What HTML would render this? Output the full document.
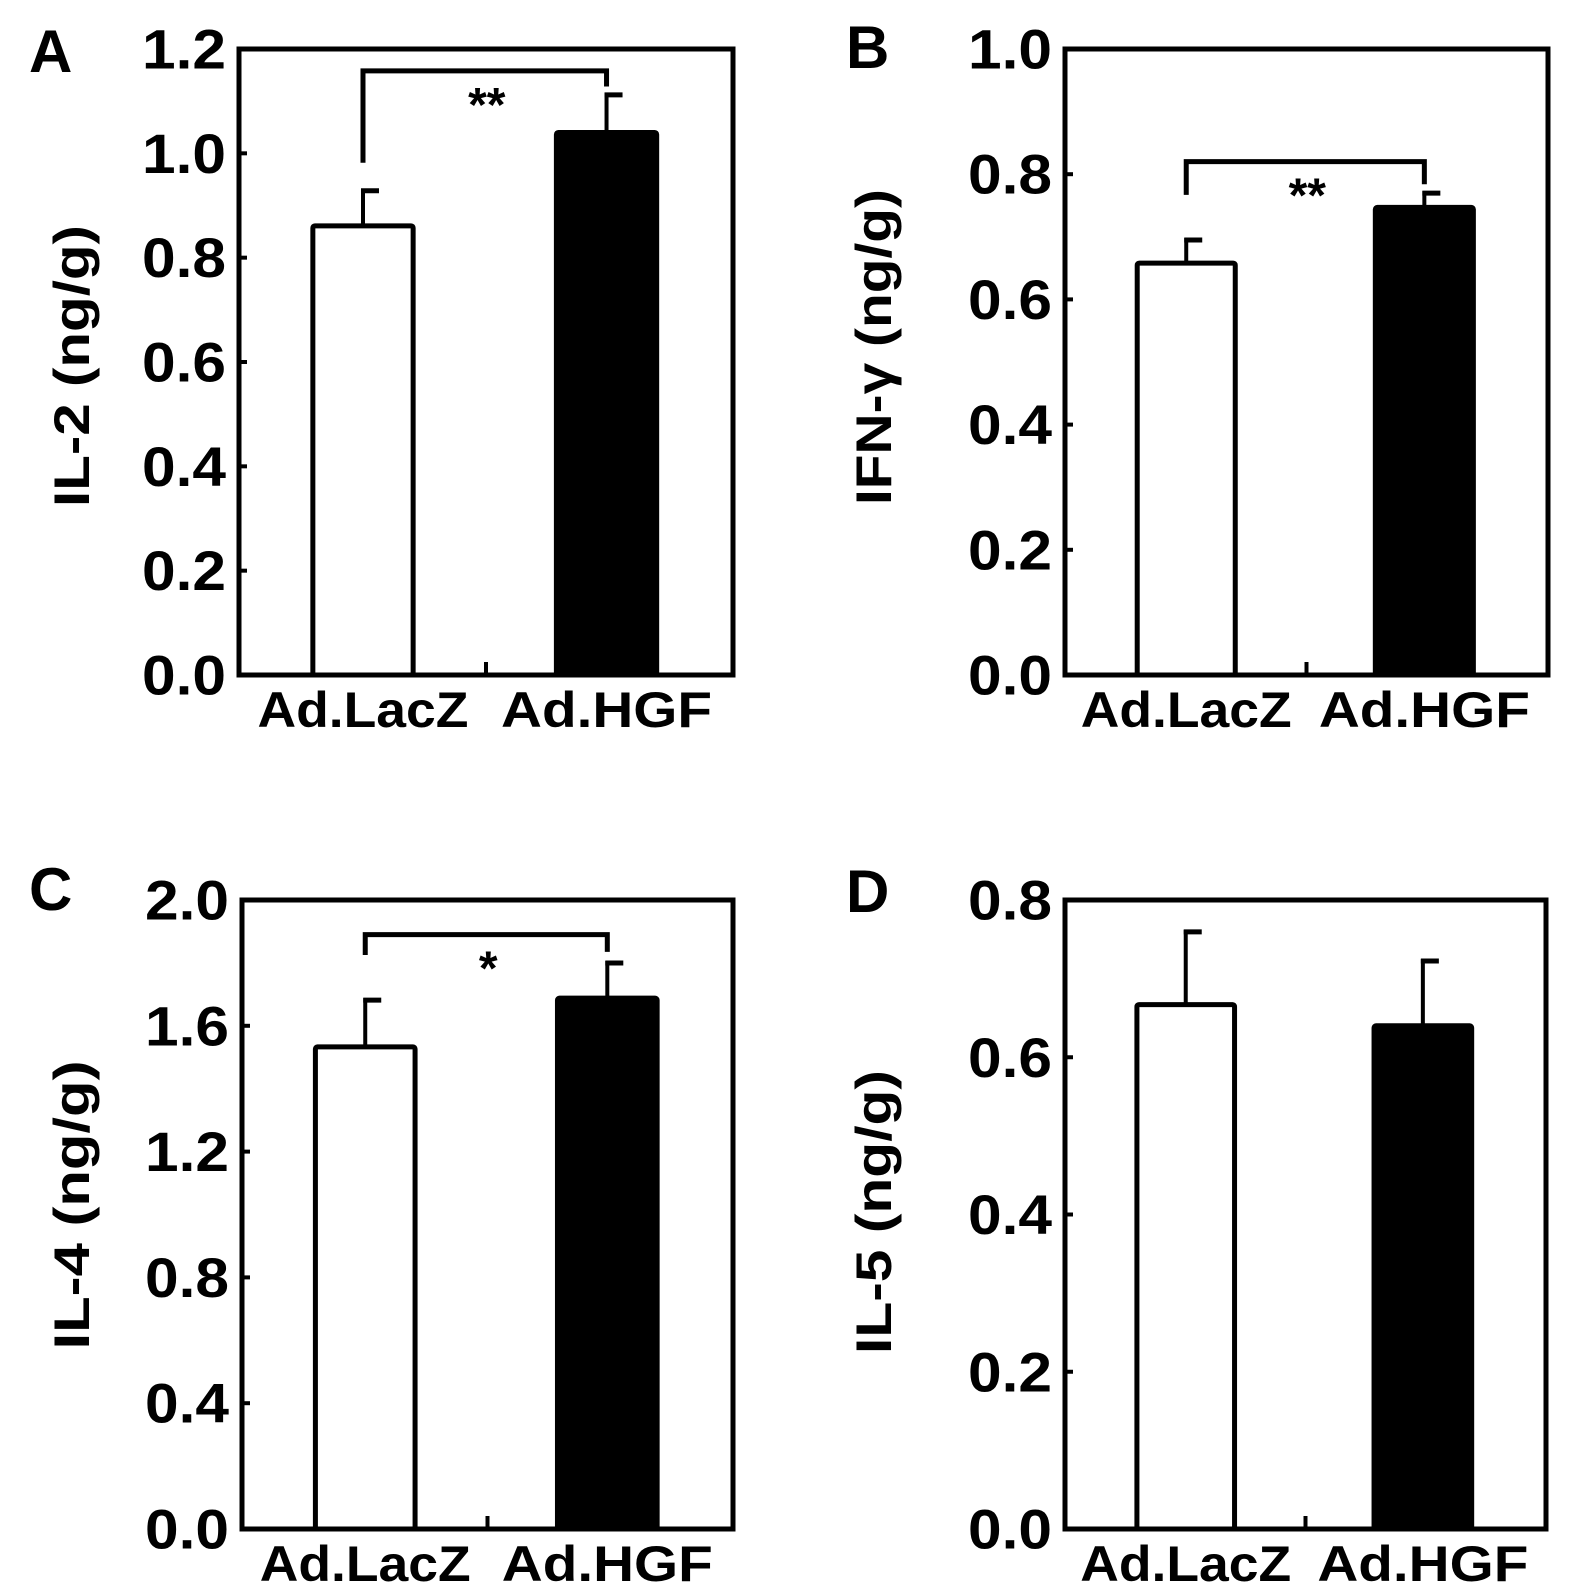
<!DOCTYPE html>
<html><head><meta charset="utf-8"><style>
html,body{margin:0;padding:0;background:#fff;}
svg{display:block;font-family:"Liberation Sans",Arial,sans-serif;font-weight:bold;}
</style></head><body>
<svg id="fig" width="1571" height="1594" viewBox="0 0 1571 1594"></svg>
<script>
const categories = ["Ad.LacZ", "Ad.HGF"];
const il2Values = [0.861, 1.04];
const il2Errors = [0.071, 0.076];
const ifnValues = [0.658, 0.747];
const ifnErrors = [0.040, 0.026];
const il4Values = [1.533, 1.688];
const il4Errors = [0.155, 0.118];
const il5Values = [0.667, 0.640];
const il5Errors = [0.095, 0.085];
const il2Ticks = ["0.0","0.2","0.4","0.6","0.8","1.0","1.2"];
const ifnTicks = ["0.0","0.2","0.4","0.6","0.8","1.0"];
const il4Ticks = ["0.0","0.4","0.8","1.2","1.6","2.0"];
const il5Ticks = ["0.0","0.2","0.4","0.6","0.8"];
const sigA = "**", sigB = "**", sigC = "*";

const NS = "http://www.w3.org/2000/svg";
const svg = document.getElementById("fig");
function mk(tag, attrs, parent){
  const e = document.createElementNS(NS, tag);
  for (const k in attrs) e.setAttribute(k, attrs[k]);
  (parent||svg).appendChild(e);
  return e;
}

const panels = [
  {id:"a", letter:"A", lx:29, ly:72, L:239, R:733, T:49, B:675, ymax:1.2, ticks:il2Ticks, vals:il2Values, errs:il2Errors, title:"IL-2 (ng/g)", tx:72, ty:366, tl:282, sig:sigA, bracket:{y:1.2-0.042, dl:0.05, dr:0.012}},
  {id:"b", letter:"B", lx:846, ly:68, L:1065, R:1548, T:49, B:675, ymax:1.0, ticks:ifnTicks, vals:ifnValues, errs:ifnErrors, title:"IFN-\u03b3 (ng/g)", tx:874, ty:347, tl:316, sig:sigB, bracket:{y:0.82, dl:0.069, dr:0.011}},
  {id:"c", letter:"C", lx:29, ly:910, L:242, R:733, T:900, B:1529, ymax:2.0, ticks:il4Ticks, vals:il4Values, errs:il4Errors, title:"IL-4 (ng/g)", tx:72, ty:1205, tl:289, sig:sigC, bracket:{y:1.89, dl:0.137, dr:0.029}},
  {id:"d", letter:"D", lx:846, ly:912, L:1065, R:1546, T:900, B:1529, ymax:0.8, ticks:il5Ticks, vals:il5Values, errs:il5Errors, title:"IL-5 (ng/g)", tx:874, ty:1212, tl:284, sig:null}
];

panels.forEach(p => {
  const g = mk("g", {});
  
  
  const y = v => p.B - (v / p.ymax) * (p.B - p.T);
  const w = p.R - p.L;
  const xc = i => p.L + w * (i === 0 ? 0.251 : 0.744);
  const bw = w * 0.203;

  const letter = mk("text", {x:p.lx, y:p.ly, "font-size":60}, g);
  letter.textContent = p.letter;
  
  

  const t = mk("text", {x:0, y:0, "font-size":50, "text-anchor":"middle", "dominant-baseline":"central", textLength:p.tl, lengthAdjust:"spacingAndGlyphs", transform:`translate(${p.tx},${p.ty}) rotate(-90)`}, g);
  t.textContent = p.title;
  
  

  p.vals.forEach((v, i) => {
    const top = y(v);
    const etop = y(v + p.errs[i]);
    const el = mk("line", {x1:xc(i), x2:xc(i), y1:top, y2:etop, stroke:"#000", "stroke-width":4}, g);
    
    
    const cap = mk("line", {x1:xc(i)-2, x2:xc(i)+16, y1:etop+2, y2:etop+2, stroke:"#000", "stroke-width":5}, g);
    
    
    const r = mk("rect", {x:xc(i)-bw/2, y:top, width:bw, height:p.B-top, fill:i===0?"#fff":"#000", stroke:"#000", "stroke-width":5, rx:2}, g);
    
    
    const xl = mk("text", {x:xc(i), y:p.B+52, "font-size":50, "text-anchor":"middle", textLength:211, lengthAdjust:"spacingAndGlyphs"}, g);
    xl.textContent = categories[i];
    
    
  });

  const f = mk("rect", {x:p.L, y:p.T, width:w, height:p.B-p.T, fill:"none", stroke:"#000", "stroke-width":5}, g);
  
  
  const mt = mk("line", {x1:p.L+w/2, x2:p.L+w/2, y1:p.B, y2:p.B-13, stroke:"#000", "stroke-width":4}, g);
  
  

  p.ticks.forEach(lbl => {
    const v = parseFloat(lbl);
    const ty = y(v);
    const tk = mk("line", {x1:p.L, x2:p.L+8, y1:ty, y2:ty, stroke:"#000", "stroke-width":4}, g);
    
    
    const tt = mk("text", {x:p.L-13, y:ty, "font-size":56, "text-anchor":"end", "dominant-baseline":"central", textLength:84, lengthAdjust:"spacingAndGlyphs"}, g);
    tt.textContent = lbl;
    
    
  });

  if (p.sig) {
    const by = y(p.bracket.y);
    const x1 = xc(0), x2 = xc(1);
    const lyb = y(p.vals[0] + p.errs[0] + p.bracket.dl);
    const ryb = y(p.vals[1] + p.errs[1] + p.bracket.dr);
    const br = mk("polyline", {points:`${x1},${lyb} ${x1},${by} ${x2},${by} ${x2},${ryb}`, fill:"none", stroke:"#000", "stroke-width":5}, g);
    
    
    const st = mk("text", {x:(x1+x2)/2+2, y:by+50, "font-size":48, "text-anchor":"middle"}, g);
    st.textContent = p.sig;
    
    
  }
});
</script>
</body></html>
